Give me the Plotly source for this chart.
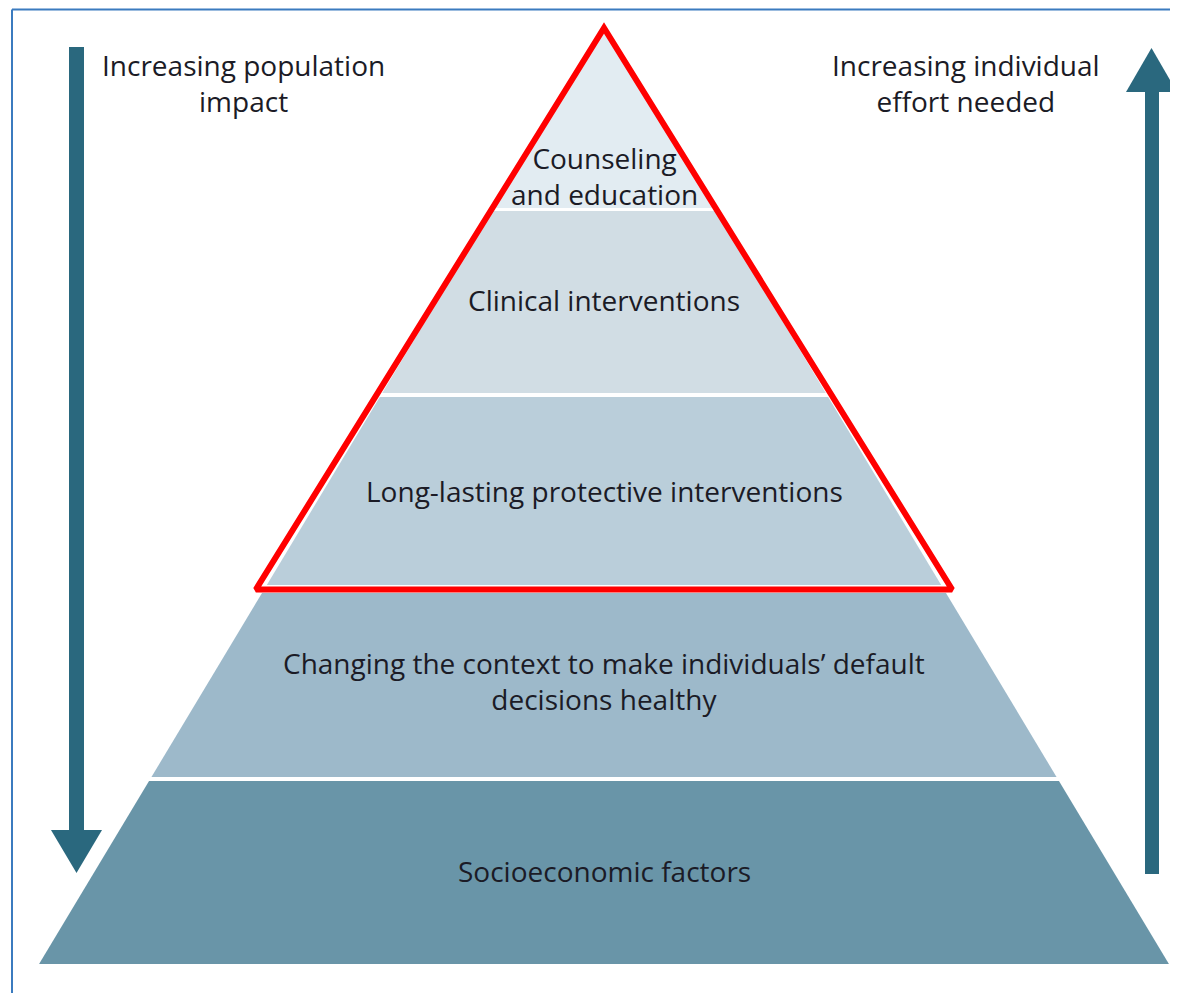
"""
Piramide dell'impatto sulla salute (Frieden) ricostruita con Plotly.
"""

import plotly.graph_objects as go

# ──────────────────────────────────────────────
# Dati
# ──────────────────────────────────────────────
LAYER_LABELS = [
    "Counseling<br>and education",
    "Clinical interventions",
    "Long-lasting protective interventions",
    "Changing the context to make individuals’ default<br>decisions healthy",
    "Socioeconomic factors",
]
LAYER_TOP = [24, 211, 397, 593, 781]
LAYER_BOTTOM = [208, 393, 585, 777, 964]
LABEL_Y = [176, 300, 491, 681, 871]
LAYER_COLORS = ["#E2ECF2", "#D1DDE4", "#BACEDA", "#9DB9CA", "#6995A8"]

LEFT_TEXT = "Increasing population<br>impact"
RIGHT_TEXT = "Increasing individual<br>effort needed"

# geometria in coordinate "pixel" dell'asse
W, H = 1178, 993
PAGE_MARGIN = 8        # margine del <body> nella pagina html
CX = 604
APEX_Y = 24
SLOPE = 0.601          # mezza larghezza per unità di altezza

RED_APEX_Y = 28
RED_BASE_Y = 589.5
RED_SLOPE = 0.62

ARROW_COLOR = "#2A687E"
BORDER_COLOR = "#3B7BBF"
TEXT_COLOR = "#1B1B26"
FONT = "'Open Sans', Lato, sans-serif"
FONT_SIZE = 28


def half_width(y: float) -> float:
    return SLOPE * (y - APEX_Y)


fig = go.Figure()

# ──────────────────────────────────────────────
# Livelli della piramide
# ──────────────────────────────────────────────
for label, top, bottom, ly, color in zip(LAYER_LABELS, LAYER_TOP, LAYER_BOTTOM,
                                         LABEL_Y, LAYER_COLORS):
    ht, hb = half_width(top), half_width(bottom)
    fig.add_trace(go.Scatter(
        x=[CX - ht, CX + ht, CX + hb, CX - hb, CX - ht],
        y=[top, top, bottom, bottom, top],
        mode="lines",
        fill="toself",
        fillcolor=color,
        line=dict(width=0, color=color),
        hoverinfo="skip",
        showlegend=False,
    ))
    fig.add_annotation(
        x=CX, y=ly, text=label, showarrow=False,
        font=dict(family=FONT, size=FONT_SIZE, color=TEXT_COLOR),
        xanchor="center", yanchor="middle", align="center",
    )

# Triangolo rosso che evidenzia i tre livelli superiori
rh = RED_SLOPE * (RED_BASE_Y - RED_APEX_Y)
fig.add_trace(go.Scatter(
    x=[CX, CX + rh, CX, CX - rh, CX],
    y=[RED_BASE_Y, RED_BASE_Y, RED_APEX_Y, RED_BASE_Y, RED_BASE_Y],
    mode="lines",
    line=dict(width=6, color="#FF0000"),
    hoverinfo="skip",
    showlegend=False,
))

# ──────────────────────────────────────────────
# Frecce laterali
# ──────────────────────────────────────────────
arrows = [
    # asta (x0, x1), (y0, y1) ; base punta, vertice, mezza larghezza punta, centro x
    dict(sx=(69, 84), sy=(47, 832), hy=830, ty=873, hw=25.5, cx=76.5),
    dict(sx=(1145, 1159), sy=(90, 874), hy=92, ty=48, hw=25.5, cx=1151.5),
]
for a in arrows:
    fig.add_trace(go.Scatter(
        x=[a["sx"][0], a["sx"][1], a["sx"][1], a["sx"][0], a["sx"][0]],
        y=[a["sy"][0], a["sy"][0], a["sy"][1], a["sy"][1], a["sy"][0]],
        mode="lines", fill="toself", fillcolor=ARROW_COLOR,
        line=dict(width=0, color=ARROW_COLOR),
        hoverinfo="skip", showlegend=False,
    ))
    fig.add_trace(go.Scatter(
        x=[a["cx"] - a["hw"], a["cx"] + a["hw"], a["cx"], a["cx"] - a["hw"]],
        y=[a["hy"], a["hy"], a["ty"], a["hy"]],
        mode="lines", fill="toself", fillcolor=ARROW_COLOR,
        line=dict(width=0, color=ARROW_COLOR),
        hoverinfo="skip", showlegend=False,
    ))

fig.add_annotation(
    x=243, y=83, text=LEFT_TEXT, showarrow=False,
    font=dict(family=FONT, size=FONT_SIZE, color=TEXT_COLOR),
    xanchor="center", yanchor="middle", align="center",
)
fig.add_annotation(
    x=966, y=83, text=RIGHT_TEXT, showarrow=False,
    font=dict(family=FONT, size=FONT_SIZE, color=TEXT_COLOR),
    xanchor="center", yanchor="middle", align="center",
)

# Bordo blu (in alto e a sinistra)
fig.add_shape(type="line", xref="x", yref="y", x0=12, x1=W, y0=9.5, y1=9.5,
              line=dict(color=BORDER_COLOR, width=2))
fig.add_shape(type="line", xref="x", yref="y", x0=12, x1=12, y0=9.5, y1=H,
              line=dict(color=BORDER_COLOR, width=2))

# la pagina ha un margine di 8 px: si compensa spostando gli assi
fig.update_layout(
    width=W - PAGE_MARGIN, height=H - PAGE_MARGIN,
    margin=dict(l=0, r=0, t=0, b=0),
    xaxis=dict(range=[PAGE_MARGIN, W], visible=False, fixedrange=True),
    yaxis=dict(range=[H, PAGE_MARGIN], visible=False, fixedrange=True),
    plot_bgcolor="white",
    paper_bgcolor="white",
)

fig.write_html("out.html")
